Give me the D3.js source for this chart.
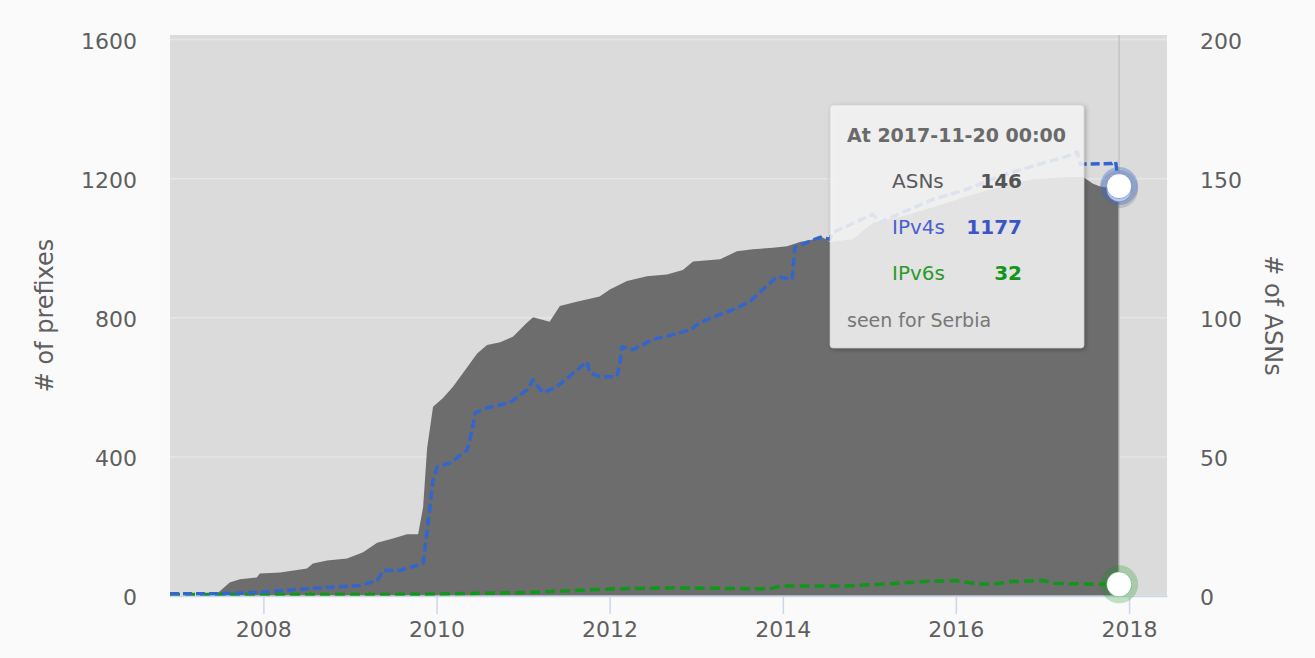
<!DOCTYPE html>
<html>
<head>
<meta charset="utf-8">
<script src="https://cdn.jsdelivr.net/npm/d3@7"></script>
<style>
  html, body { margin: 0; padding: 0; background: #fafafa; }
  svg { display: block; font-family: "DejaVu Sans", "Lucida Grande", sans-serif; }
</style>
</head>
<body>
<svg id="chart" width="1315" height="658"></svg>
<script>
// Routed ASNs (right axis) for the country
const asnSeries = [
  ["2006-12-03", 0], ["2007-06-10", 0], ["2007-07-01", 1.5], ["2007-08-12", 4.7],
  ["2007-09-24", 5.8], ["2007-12-04", 6.5], ["2007-12-17", 7.9], ["2008-03-12", 8.3],
  ["2008-07-03", 9.7], ["2008-07-28", 11.5], ["2008-09-26", 12.6], ["2008-12-19", 13.3],
  ["2009-02-25", 15.5], ["2009-04-25", 19], ["2009-07-01", 20.5], ["2009-08-29", 22],
  ["2009-10-15", 22], ["2009-11-05", 31.7], ["2009-11-22", 53], ["2009-12-17", 67.8],
  ["2010-01-28", 71], ["2010-03-11", 75], ["2010-05-10", 82], ["2010-06-21", 87],
  ["2010-08-02", 90], ["2010-09-26", 91], ["2010-11-19", 93], ["2011-01-17", 98],
  ["2011-02-12", 100], ["2011-04-23", 98.4], ["2011-06-05", 104], ["2011-08-15", 105.6],
  ["2011-11-20", 107.5], ["2012-01-02", 110], ["2012-03-14", 113], ["2012-06-07", 114.7],
  ["2012-08-30", 115.4], ["2012-11-05", 117], ["2012-12-18", 120], ["2013-04-11", 120.8],
  ["2013-06-21", 123.7], ["2013-08-28", 124.4], ["2013-11-20", 125], ["2014-01-19", 125.5],
  ["2014-03-14", 127], ["2014-06-19", 128.7], ["2014-07-18", 127], ["2014-10-23", 128],
  ["2015-01-16", 134], ["2015-05-10", 136], ["2015-09-26", 139.5], ["2016-02-17", 143.5],
  ["2016-07-05", 147], ["2016-11-22", 149.6], ["2017-04-15", 150.4], ["2017-06-21", 150.4],
  ["2017-08-02", 148], ["2017-09-01", 147], ["2017-11-20", 146]
];

// Announced IPv4 prefixes (left axis)
const ipv4Series = [
  ["2006-12-03", 5], ["2007-07-01", 5], ["2007-12-17", 9], ["2008-07-15", 20],
  ["2009-02-12", 29], ["2009-04-25", 43], ["2009-05-20", 72], ["2009-07-30", 72],
  ["2009-11-05", 92], ["2009-11-22", 187], ["2009-12-04", 254], ["2009-12-17", 332],
  ["2010-01-03", 369], ["2010-02-27", 381], ["2010-05-10", 418], ["2010-05-31", 476],
  ["2010-06-13", 525], ["2010-08-14", 542], ["2010-11-06", 554], ["2011-01-17", 591],
  ["2011-02-12", 620], ["2011-03-24", 583], ["2011-05-23", 600], ["2011-09-27", 672],
  ["2011-10-10", 640], ["2011-11-20", 629], ["2012-02-01", 629], ["2012-02-14", 672],
  ["2012-02-22", 715], ["2012-04-09", 707], ["2012-07-02", 736], ["2012-09-25", 750],
  ["2012-12-06", 764], ["2013-01-17", 785], ["2013-04-11", 808], ["2013-06-05", 822],
  ["2013-08-15", 845], ["2013-12-07", 917], ["2014-02-09", 909], ["2014-02-21", 1001],
  ["2014-06-07", 1030], ["2014-07-18", 1024], ["2014-07-31", 1044], ["2015-01-16", 1096],
  ["2015-02-14", 1073], ["2015-09-26", 1139], ["2016-02-17", 1168], ["2016-07-05", 1206],
  ["2016-11-22", 1235], ["2017-04-15", 1263], ["2017-05-27", 1275], ["2017-06-09", 1240],
  ["2017-10-21", 1242], ["2017-11-05", 1248], ["2017-11-20", 1177]
];

// Announced IPv6 prefixes (left axis)
const ipv6Series = [
  ["2006-12-03", 3], ["2009-06-01", 3], ["2009-12-20", 4], ["2010-12-01", 8],
  ["2011-05-20", 12], ["2012-01-10", 19], ["2012-09-28", 22], ["2013-11-02", 19],
  ["2013-12-28", 27], ["2014-08-29", 27], ["2015-02-17", 32], ["2015-08-14", 40],
  ["2016-01-01", 43], ["2016-03-25", 34], ["2016-06-05", 32], ["2016-08-16", 40],
  ["2017-01-03", 43], ["2017-02-22", 35], ["2017-09-05", 32], ["2017-11-20", 32]
];

const prefixTicks = [0, 400, 800, 1200, 1600];
const asnTicks = [0, 50, 100, 150, 200];
const yearTicks = [2008, 2010, 2012, 2014, 2016, 2018];
const timeExtent = ["2006-12-03", "2018-06-10"];

// Hovered point shown in the tooltip
const hover = { date: "2017-11-20", time: "00:00", asns: 146, ipv4: 1177, ipv6: 32, country: "Serbia" };

const colors = { asn: "#6d6d6d", ipv4: "#3366cc", ipv6: "#109618", plotBg: "#dbdbdb", grid: "#e6e6e6", text: "#5f5f5f", axis: "#ccd6eb" };

const parse = d3.timeParse("%Y-%m-%d");
const toPoints = s => s.map(([d, v]) => ({ date: parse(d), value: v }));
const asnData = toPoints(asnSeries);
const ipv4Data = toPoints(ipv4Series);
const ipv6Data = toPoints(ipv6Series);

const plot = { left: 170, right: 1167, top: 35, bottom: 596 };

const svg = d3.select("#chart");

const x = d3.scaleTime().domain(timeExtent.map(parse)).range([plot.left, plot.right]);
const yPrefix = d3.scaleLinear().domain([0, 1600]).range([595.5, 39]);
const yAsn = d3.scaleLinear().domain([0, 200]).range([595.5, 39]);

const defs = svg.append("defs");
const shadow = defs.append("filter").attr("id", "tipShadow").attr("x", "-10%").attr("y", "-10%").attr("width", "130%").attr("height", "130%");
shadow.append("feDropShadow").attr("dx", 1.5).attr("dy", 1.5).attr("stdDeviation", 2).attr("flood-color", "#000").attr("flood-opacity", 0.3);

// plot background
svg.append("rect")
  .attr("x", plot.left).attr("y", plot.top)
  .attr("width", plot.right - plot.left).attr("height", plot.bottom - plot.top)
  .attr("fill", colors.plotBg);

// horizontal grid
const gridAxis = d3.axisLeft(yPrefix).tickValues(prefixTicks).tickSize(-(plot.right - plot.left)).tickFormat("");
const grid = svg.append("g").attr("transform", `translate(${plot.left},0)`).call(gridAxis);
grid.select(".domain").remove();
grid.selectAll("line").attr("stroke", colors.grid).attr("stroke-width", 1.5);

// ASN area
const area = d3.area()
  .x(d => x(d.date))
  .y0(yAsn(0))
  .y1(d => yAsn(d.value));
svg.append("path").datum(asnData).attr("d", area).attr("fill", colors.asn);

// prefix lines
const line = d3.line().x(d => x(d.date)).y(d => yPrefix(d.value));
svg.append("path").datum(ipv6Data).attr("d", line)
  .attr("fill", "none").attr("stroke", colors.ipv6).attr("stroke-width", 3.5)
  .attr("stroke-dasharray", "10,5");
svg.append("path").datum(ipv4Data).attr("d", line)
  .attr("fill", "none").attr("stroke", colors.ipv4).attr("stroke-width", 3.5)
  .attr("stroke-dasharray", "9,4").attr("stroke-linejoin", "round");

// crosshair
const hx = x(parse(hover.date));
svg.append("line")
  .attr("x1", hx).attr("x2", hx).attr("y1", plot.top).attr("y2", plot.bottom)
  .attr("stroke", "#c4c4c4").attr("stroke-width", 1.5);

// x axis
const xAxis = d3.axisBottom(x)
  .tickValues(yearTicks.map(yv => new Date(yv, 0, 1)))
  .tickFormat(d3.timeFormat("%Y"))
  .tickSize(18).tickSizeOuter(0).tickPadding(7);
const gx = svg.append("g").attr("transform", `translate(0,${plot.bottom})`).call(xAxis);
gx.select(".domain").attr("stroke", colors.axis).attr("stroke-width", 1.5);
gx.selectAll(".tick line").attr("stroke", colors.axis).attr("stroke-width", 1.5);
gx.selectAll("text").attr("fill", colors.text).attr("font-size", 22).attr("font-family", "DejaVu Sans");

// left axis labels
const gl = svg.append("g").attr("transform", `translate(${plot.left},0)`)
  .call(d3.axisLeft(yPrefix).tickValues(prefixTicks).tickFormat(d3.format("d")).tickSize(0).tickPadding(33));
gl.select(".domain").remove();
gl.selectAll("text").attr("fill", colors.text).attr("font-size", 22).attr("font-family", "DejaVu Sans").attr("dy", "0.42em");

// right axis labels
const gr = svg.append("g").attr("transform", `translate(${plot.right},0)`)
  .call(d3.axisRight(yAsn).tickValues(asnTicks).tickFormat(d3.format("d")).tickSize(0).tickPadding(33));
gr.select(".domain").remove();
gr.selectAll("text").attr("fill", colors.text).attr("font-size", 22).attr("font-family", "DejaVu Sans").attr("dy", "0.42em");

// axis titles
const midY = (plot.top + plot.bottom) / 2;
svg.append("text")
  .attr("transform", `translate(53,${midY}) rotate(-90)`)
  .attr("text-anchor", "middle").attr("fill", colors.text).attr("font-size", 24)
  .text("# of prefixes");
svg.append("text")
  .attr("transform", `translate(1265,${midY}) rotate(90)`)
  .attr("text-anchor", "middle").attr("fill", colors.text).attr("font-size", 24)
  .text("# of ASNs");

// tooltip
const tip = svg.append("g");
tip.append("rect")
  .attr("x", 830).attr("y", 105).attr("width", 254).attr("height", 243).attr("rx", 3)
  .attr("fill", "rgba(247,247,247,0.85)").attr("stroke", "rgba(200,200,200,0.6)").attr("stroke-width", 1)
  .attr("filter", "url(#tipShadow)");
tip.append("text").attr("x", 847).attr("y", 142)
  .attr("font-size", 19).attr("font-weight", "bold").attr("fill", "#6a6a6a")
  .text(`At ${hover.date} ${hover.time}`);
const rows = [
  { label: "ASNs", value: hover.asns, lc: "#5a5a5a", vc: "#555555", y: 188 },
  { label: "IPv4s", value: hover.ipv4, lc: "#4a5fd0", vc: "#3b55c8", y: 234 },
  { label: "IPv6s", value: hover.ipv6, lc: "#2c9a2c", vc: "#109618", y: 280 }
];
rows.forEach(r => {
  tip.append("text").attr("x", 892).attr("y", r.y).attr("font-size", 20).attr("fill", r.lc).text(r.label);
  tip.append("text").attr("x", 1022).attr("y", r.y).attr("font-size", 20).attr("font-weight", "bold")
    .attr("text-anchor", "end").attr("fill", r.vc).text(r.value);
});
tip.append("text").attr("x", 847).attr("y", 327).attr("font-size", 19).attr("fill", "#777777")
  .text(`seen for ${hover.country}`);

// hover markers
function marker(cy, haloColor, strokeColor) {
  svg.append("circle").attr("cx", hx).attr("cy", cy).attr("r", 19).attr("fill", haloColor);
  svg.append("circle").attr("cx", hx).attr("cy", cy).attr("r", 12.5)
    .attr("fill", "#ffffff").attr("stroke", strokeColor).attr("stroke-width", 1);
}
marker(yAsn(hover.asns), "rgba(110,110,110,0.25)", "rgba(110,110,110,0.4)");
marker(yPrefix(hover.ipv4), "rgba(51,102,204,0.35)", "rgba(51,102,204,0.5)");
marker(yPrefix(hover.ipv6), "rgba(16,150,24,0.25)", "rgba(16,150,24,0.4)");
</script>
</body>
</html>
